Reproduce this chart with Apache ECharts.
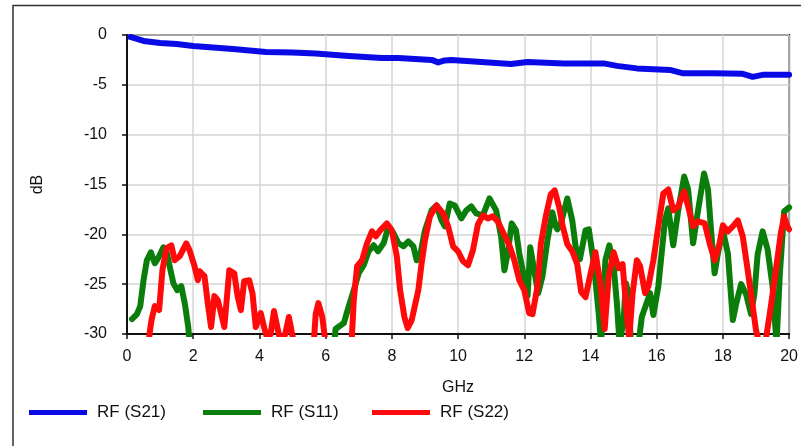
<!DOCTYPE html>
<html>
<head>
<meta charset="utf-8">
<script src="https://cdn.jsdelivr.net/npm/echarts@6/dist/echarts.min.js"></script>
<style>
  html, body { margin: 0; padding: 0; background: #ffffff; }
  #chart { width: 801px; height: 446px; }
</style>
</head>
<body>
<div id="chart"></div>
<script>
// Frequency sweep in GHz and measured S-parameters in dB.
const s21Freq = [0.1, 0.5, 1.0, 1.5, 2.0, 2.4, 3.2, 4.2, 5.0, 5.7, 6.7, 7.7, 8.2, 9.2, 9.4, 9.6, 9.8,
  10.7, 11.6, 12.1, 13.2, 14.4, 14.8, 15.4, 16.4, 16.8, 17.7, 18.6, 18.9, 19.2, 20.0];
const s21Level = [-0.2, -0.6, -0.8, -0.9, -1.1, -1.2, -1.4, -1.7, -1.75, -1.85, -2.1, -2.3, -2.3, -2.5, -2.75, -2.55, -2.5,
  -2.7, -2.9, -2.7, -2.85, -2.85, -3.1, -3.35, -3.5, -3.85, -3.85, -3.9, -4.2, -4.0, -4.0];

const s11Freq = [0.15, 0.3, 0.4, 0.5, 0.6, 0.72, 0.84, 0.94, 1.1, 1.18, 1.3, 1.4, 1.52, 1.64, 1.75, 1.85, 1.95,
  6.2, 6.3, 6.55, 6.7, 6.85, 7.0, 7.15, 7.3, 7.45, 7.58, 7.75, 7.9, 8.05, 8.2, 8.35, 8.5, 8.65, 8.75, 8.85,
  9.0, 9.2, 9.35, 9.5, 9.6, 9.75, 9.9, 10.1, 10.25, 10.4, 10.55, 10.75, 10.95, 11.15, 11.3, 11.4, 11.5,
  11.62, 11.75, 11.85, 12.0, 12.1, 12.18, 12.3, 12.42, 12.55, 12.7, 12.85, 12.95, 13.0, 13.1, 13.3, 13.45,
  13.55, 13.68, 13.85, 13.95, 14.1, 14.25, 14.32, 14.45, 14.57, 14.7, 14.8, 14.88, 15.0, 15.07, 15.15,
  15.22, 15.45, 15.55, 15.8, 15.9, 16.05, 16.15, 16.25, 16.35, 16.5, 16.65, 16.83, 16.95, 17.1, 17.25,
  17.43, 17.55, 17.65, 17.75, 17.85, 18.0, 18.15, 18.3, 18.4, 18.55, 18.7, 18.85, 18.95, 19.05, 19.2,
  19.35, 19.5, 19.62, 19.72, 19.85, 20.0];
const s11Level = [-28.5, -28.0, -27.2, -24.6, -22.6, -21.8, -22.9, -22.4, -21.3, -21.5, -23.4, -24.9, -25.6, -25.2, -27.0, -29.3, -33,
  -33, -29.5, -28.9, -27.2, -25.6, -23.9, -23.1, -21.7, -21.1, -21.7, -20.9, -19.2, -19.9, -20.9, -21.2, -20.7, -21.2, -22.6, -22.2,
  -19.6, -17.6, -17.1, -18.6, -19.2, -16.9, -17.1, -18.4, -17.6, -17.2, -17.9, -18.1, -16.4, -17.6, -20.2, -23.6, -21.9,
  -18.9, -19.6, -21.9, -24.4, -26.2, -21.3, -23.6, -25.9, -24.2, -20.6, -17.8, -19.2, -19.5, -19.0, -16.4, -18.6,
  -21.2, -22.5, -19.6, -19.5, -22.9, -28.0, -31, -22.6, -21.1, -23.2, -27.0, -31, -28.6, -24.9, -26.0,
  -31, -31, -28.3, -25.9, -28.1, -25.2, -21.9, -18.6, -17.4, -21.1, -17.6, -14.2, -15.5, -20.9, -17.6,
  -13.9, -15.5, -19.9, -23.9, -21.9, -19.6, -21.9, -28.6, -27.0, -25.0, -26.0, -28.0, -26.0, -22.0, -19.7,
  -21.5, -25.2, -31, -24.0, -17.7, -17.3];

const s22Freq = [0.6, 0.68, 0.74, 0.84, 0.97, 1.07, 1.19, 1.34, 1.44, 1.59, 1.79, 1.89, 2.04, 2.14, 2.19, 2.34,
  2.44, 2.54, 2.64, 2.74, 2.84, 2.94, 3.09, 3.24, 3.34, 3.44, 3.54, 3.69, 3.79, 3.89, 4.04, 4.14, 4.24, 4.34,
  4.44, 4.54, 4.65, 4.78, 4.89, 5.0, 5.1, 5.6, 5.7, 5.78, 5.9, 6.0, 6.05, 6.75, 6.85, 6.95, 7.1, 7.25, 7.4,
  7.52, 7.65, 7.85, 8.0, 8.15, 8.25, 8.38, 8.48, 8.6, 8.7, 8.8, 8.9, 9.0, 9.15, 9.35, 9.55, 9.7, 9.85, 10.0,
  10.15, 10.3, 10.45, 10.6, 10.75, 10.9, 11.05, 11.2, 11.4, 11.55, 11.7, 11.85, 12.0, 12.15, 12.25, 12.4,
  12.5, 12.65, 12.8, 12.92, 13.05, 13.15, 13.3, 13.45, 13.6, 13.72, 13.85, 14.0, 14.15, 14.3, 14.43, 14.55,
  14.7, 14.85, 14.97, 15.07, 15.17, 15.27, 15.4, 15.5, 15.65, 15.75, 15.9, 16.05, 16.2, 16.35, 16.5, 16.65,
  16.83, 16.95, 17.1, 17.25, 17.45, 17.6, 17.75, 17.9, 18.0, 18.15, 18.3, 18.45, 18.6, 18.75, 18.9, 19.0,
  19.1, 19.3, 19.45, 19.6, 19.75, 19.85, 19.95, 20.0];
const s22Level = [-33, -30, -28.6, -27.2, -27.6, -23.6, -21.4, -21.1, -22.6, -22.2, -20.9, -21.6, -23.2, -24.6, -23.7, -24.2,
  -26.9, -29.3, -26.2, -26.6, -27.9, -29.3, -23.6, -23.9, -26.2, -27.6, -24.7, -24.6, -25.9, -29.3, -27.9, -29.3, -30.5, -30,
  -27.7, -29.3, -31, -30, -28.3, -30.2, -33, -33, -28, -26.9, -28.3, -31, -33, -33, -26.6, -23.2, -22.6, -20.9, -19.7,
  -20.2, -19.6, -18.9, -19.6, -22.2, -25.6, -28.3, -29.4, -28.6, -27.1, -25.6, -22.9, -20.6, -18.2, -17.1, -17.9, -19.2, -21.2, -21.7,
  -22.7, -23.1, -21.6, -19.0, -18.1, -18.4, -18.2, -18.7, -20.1, -21.1, -22.6, -24.6, -25.6, -27.9, -28.0, -25.2,
  -21.0, -18.2, -16.0, -15.6, -17.2, -19.0, -21.0, -21.7, -23.0, -25.8, -26.3, -24.0, -21.8, -25.0, -29.5, -24.2,
  -21.8, -23.4, -23.0, -27.0, -30.5, -26.0, -22.6, -23.2, -25.9, -25.2, -22.6, -19.2, -15.9, -15.5, -17.6, -17.2,
  -15.7, -17.2, -19.2, -18.7, -18.9, -20.9, -22.6, -20.9, -19.1, -19.7, -19.2, -18.6, -20.2, -23.6, -27.2, -29.6,
  -31, -30.5, -27.2, -23.6, -19.9, -18.2, -19.2, -19.5];

const seriesNames = ['RF (S21)', 'RF (S11)', 'RF (S22)'];
const seriesColors = ['#0a0ae6', '#0b7d0b', '#ff0a0a'];
const legendLefts = [29, 203, 372];

function pairs(xs, ys) {
  return xs.map((x, i) => [x, ys[i]]);
}

const fontFamily = '"Liberation Sans", Arial, sans-serif';
const chart = echarts.init(document.getElementById('chart'), null, { renderer: 'canvas' });

const makeSeries = (idx, xs, ys) => ({
  name: seriesNames[idx],
  type: 'line',
  data: pairs(xs, ys),
  showSymbol: false,
  symbol: 'none',
  clip: true,
  smooth: false,
  lineStyle: { color: seriesColors[idx], width: 6, join: 'round', cap: 'round' },
  itemStyle: { color: seriesColors[idx] }
});

// One legend block per series so each entry sits at its own left offset.
const legends = seriesNames.map((name, i) => ({
  left: legendLefts[i],
  top: 404,
  padding: 0,
  itemWidth: 58,
  itemHeight: 5,
  icon: 'rect',
  data: [name],
  textStyle: { fontFamily, fontSize: 17, color: '#111', padding: [0, 0, 0, 5] }
}));

chart.setOption({
  animation: false,
  backgroundColor: '#ffffff',
  graphic: [{
    type: 'rect',
    shape: { x: 13, y: 5.5, width: 800, height: 460 },
    style: { fill: 'none', stroke: '#333333', lineWidth: 1.5 },
    silent: true
  }],
  legend: legends,
  grid: {
    left: 127, top: 35, right: 8, bottom: 112,
    show: true, borderColor: '#111', borderWidth: 2, backgroundColor: 'transparent'
  },
  xAxis: {
    type: 'value',
    min: 0, max: 20, interval: 2,
    name: 'GHz',
    nameLocation: 'middle',
    nameGap: 46,
    nameTextStyle: { fontFamily, fontSize: 16, color: '#111' },
    axisLine: { show: true, onZero: false, lineStyle: { color: '#111', width: 2 } },
    axisTick: { show: true, length: 5, lineStyle: { color: '#111', width: 1.5 } },
    axisLabel: { fontFamily, fontSize: 16, color: '#111', margin: 15 },
    splitLine: { show: true, lineStyle: { color: '#d4d4d4', width: 1.5 } }
  },
  yAxis: {
    type: 'value',
    min: -30, max: 0, interval: 5,
    name: 'dB',
    nameLocation: 'middle',
    nameGap: 81,
    nameRotate: 90,
    nameTextStyle: { fontFamily, fontSize: 16, color: '#111' },
    axisLine: { show: true, onZero: false, lineStyle: { color: '#111', width: 2 } },
    axisTick: { show: true, length: 5, lineStyle: { color: '#111', width: 1.5 } },
    axisLabel: { fontFamily, fontSize: 16, color: '#111', margin: 20 },
    splitLine: { show: true, lineStyle: { color: '#d4d4d4', width: 1.5 } }
  },
  series: [
    makeSeries(0, s21Freq, s21Level),
    makeSeries(1, s11Freq, s11Level),
    makeSeries(2, s22Freq, s22Level)
  ]
});
</script>
</body>
</html>
